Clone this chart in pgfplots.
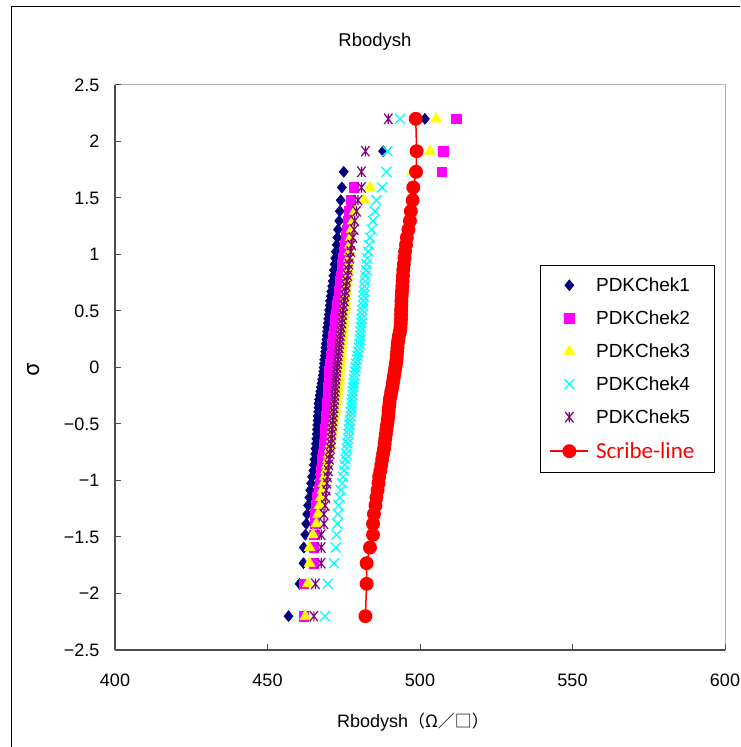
\documentclass[border=0pt]{standalone}
\usepackage{pgfplots}
\pgfplotsset{compat=1.18}
\usepackage{pgfplotstable}
\usepackage{fontspec}
\setmainfont{Liberation Sans}
\newfontfamily\cjk{Noto Sans CJK JP}
\newfontfamily\carlito{Carlito}
\definecolor{cnavy}{RGB}{0,0,128}
\definecolor{cmag}{RGB}{255,0,255}
\definecolor{cyel}{RGB}{255,255,0}
\definecolor{ccyan}{RGB}{0,255,255}
\definecolor{cpurp}{RGB}{128,0,128}
\definecolor{cred}{RGB}{255,0,0}
\pgfdeclareplotmark{xbar}{%
  \pgfpathmoveto{\pgfqpoint{-0.8\pgfplotmarksize}{-\pgfplotmarksize}}%
  \pgfpathlineto{\pgfqpoint{0.8\pgfplotmarksize}{\pgfplotmarksize}}%
  \pgfpathmoveto{\pgfqpoint{-0.8\pgfplotmarksize}{\pgfplotmarksize}}%
  \pgfpathlineto{\pgfqpoint{0.8\pgfplotmarksize}{-\pgfplotmarksize}}%
  \pgfpathmoveto{\pgfqpoint{0pt}{-\pgfplotmarksize}}%
  \pgfpathlineto{\pgfqpoint{0pt}{\pgfplotmarksize}}%
  \pgfusepathqstroke}
\pgfdeclareplotmark{xx}{%
  \pgfpathmoveto{\pgfqpoint{-\pgfplotmarksize}{-\pgfplotmarksize}}%
  \pgfpathlineto{\pgfqpoint{\pgfplotmarksize}{\pgfplotmarksize}}%
  \pgfpathmoveto{\pgfqpoint{-\pgfplotmarksize}{\pgfplotmarksize}}%
  \pgfpathlineto{\pgfqpoint{\pgfplotmarksize}{-\pgfplotmarksize}}%
  \pgfusepathqstroke}
\pgfdeclareplotmark{dmd}{%
  \pgfpathmoveto{\pgfqpoint{0pt}{1.15\pgfplotmarksize}}%
  \pgfpathlineto{\pgfqpoint{0.95\pgfplotmarksize}{0pt}}%
  \pgfpathlineto{\pgfqpoint{0pt}{-1.15\pgfplotmarksize}}%
  \pgfpathlineto{\pgfqpoint{-0.95\pgfplotmarksize}{0pt}}%
  \pgfpathclose\pgfusepathqfillstroke}
\pgfplotstableread{
z a b c d e f
-2.2004 456.9 461.9 462.4 468.8 465.2 482.1
-1.9145 460.5 461.9 463.2 469.8 465.7 482.5
-1.7317 461.8 465.2 463.8 471.8 467.6 482.5
-1.5932 461.9 465.2 463.8 472.4 467.6 483.6
-1.4802 462.4 465.3 464.9 472.6 467.6 484.6
-1.3830 462.7 465.5 466.0 472.9 468.5 484.6
-1.2975 463.0 465.7 466.6 473.1 468.5 484.9
-1.2206 463.3 466.0 467.1 473.3 468.9 485.4
-1.1503 463.7 466.4 467.5 473.7 469.1 485.7
-1.0853 464.0 466.8 468.0 474.1 469.3 486.1
-1.0246 464.3 467.1 468.4 474.5 469.5 486.4
-0.9674 464.6 467.4 468.7 474.8 469.7 486.6
-0.9134 465.0 467.6 469.1 475.1 469.9 487.0
-0.8616 465.2 467.8 469.5 475.3 470.1 487.3
-0.8122 465.4 468.0 469.8 475.6 470.3 487.6
-0.7647 465.6 468.2 470.1 475.8 470.5 487.9
-0.7189 465.7 468.4 470.4 476.0 470.7 488.2
-0.6745 465.9 468.6 470.7 476.2 470.8 488.4
-0.6314 466.0 468.8 471.0 476.4 471.0 488.6
-0.5895 466.1 468.9 471.2 476.6 471.1 488.8
-0.5485 466.2 469.0 471.4 476.7 471.2 489.0
-0.5085 466.3 469.1 471.6 476.9 471.4 489.2
-0.4693 466.4 469.2 471.8 477.0 471.5 489.4
-0.4307 466.5 469.3 472.0 477.2 471.6 489.6
-0.3928 466.6 469.4 472.2 477.3 471.7 489.7
-0.3554 466.7 469.5 472.4 477.5 471.8 489.8
-0.3186 466.7 469.6 472.6 477.6 471.9 490.0
-0.2822 466.9 469.7 472.7 477.7 472.0 490.1
-0.2462 467.1 469.8 472.9 477.9 472.1 490.4
-0.2104 467.3 469.9 473.0 478.0 472.2 490.6
-0.1750 467.5 470.0 473.2 478.1 472.3 490.9
-0.1397 467.7 470.1 473.3 478.3 472.4 491.1
-0.1046 467.9 470.2 473.5 478.4 472.5 491.3
-0.0697 468.1 470.2 473.6 478.5 472.6 491.5
-0.0348 468.3 470.3 473.7 478.7 472.7 491.7
0.0000 468.4 470.4 473.8 478.9 472.8 491.9
0.0348 468.5 470.5 473.9 479.1 473.0 492.1
0.0697 468.6 470.7 474.0 479.3 473.1 492.3
0.1046 468.8 470.8 474.1 479.5 473.2 492.4
0.1397 468.9 471.0 474.2 479.7 473.4 492.5
0.1750 469.0 471.1 474.3 479.9 473.5 492.6
0.2104 469.1 471.3 474.4 480.1 473.6 492.7
0.2462 469.3 471.5 474.5 480.3 473.8 492.9
0.2822 469.4 471.6 474.6 480.4 473.9 493.1
0.3186 469.5 471.8 474.7 480.5 474.1 493.4
0.3554 469.6 472.0 474.8 480.6 474.2 493.6
0.3928 469.8 472.1 474.9 480.8 474.4 493.7
0.4307 469.9 472.3 475.1 480.9 474.5 493.8
0.4693 470.1 472.5 475.2 481.0 474.7 493.8
0.5085 470.2 472.7 475.3 481.1 474.8 493.8
0.5485 470.4 472.9 475.5 481.3 475.0 493.9
0.5895 470.5 473.1 475.6 481.4 475.2 493.9
0.6314 470.7 473.3 475.7 481.5 475.4 494.0
0.6745 470.9 473.5 475.9 481.7 475.6 494.1
0.7189 471.2 473.7 476.0 481.8 475.8 494.2
0.7647 471.4 473.9 476.2 482.0 476.0 494.3
0.8122 471.6 474.1 476.3 482.1 476.3 494.4
0.8616 471.8 474.3 476.5 482.3 476.5 494.5
0.9134 472.0 474.5 476.6 482.5 476.7 494.7
0.9674 472.2 474.8 476.7 482.7 477.0 494.9
1.0246 472.4 475.0 476.9 483.0 477.3 495.1
1.0853 472.7 475.3 477.0 483.3 477.6 495.4
1.1503 472.9 475.6 477.2 483.6 478.0 495.7
1.2206 473.1 476.2 477.5 484.1 478.4 496.2
1.2975 473.5 476.4 478.0 484.6 478.6 496.7
1.3830 473.7 476.6 478.6 485.2 479.2 497.0
1.4802 474.0 477.3 481.7 485.7 479.7 497.6
1.5932 474.4 478.3 483.6 487.6 480.8 497.8
1.7317 475.0 507.1 497.4 489.0 480.8 498.7
1.9145 487.9 507.6 503.3 489.3 482.1 498.9
2.2004 501.6 511.8 505.3 493.4 489.6 498.6
}\datatable
\begin{document}
\begin{tikzpicture}[x=1pt,y=1pt]
\useasboundingbox (0,0) rectangle (740,747);
\draw[black, line width=1pt] (11,0) -- (11,740) -- (740,740);
\begin{axis}[
  at={(115pt,97pt)}, anchor=south west,
  width=610pt, height=565pt, scale only axis,
  xmin=400, xmax=600, ymin=-2.5, ymax=2.5,
  xtick={400,450,500,550,600},
  ytick={-2.5,-2,-1.5,-1,-0.5,0,0.5,1,1.5,2,2.5},
  yticklabels={−2.5,−2,−1.5,−1,−0.5,0,0.5,1,1.5,2,2.5},
  axis lines*=left,
  axis line style={draw=black!70, line width=1.2pt},
  axis background/.style={draw=gray!60, line width=1pt},
  tick align=inside,
  major tick length=6pt,
  tick style={draw=black!70, line width=1pt},
  /pgf/number format/assume math mode=true,
  tick label style={font=\fontsize{18}{20}\selectfont},
  xticklabel style={yshift=-20pt},
  yticklabel style={xshift=-12pt},
  clip=false,
  legend style={at={(0.697,0.681)}, anchor=north west, draw=black, line width=0.8pt,
    fill=white, font=\fontsize{19}{22}\selectfont, row sep=13.7pt, inner xsep=9pt, inner ysep=10pt,
    nodes={inner xsep=1pt}},
  legend cell align=left,
  legend image code/.code={\draw[mark repeat=2,mark phase=2,#1] plot coordinates {(0pt,0pt) (19pt,0pt) (38pt,0pt)};},
]
\addplot[only marks, mark=dmd, mark size=4.8pt, draw=cnavy, fill=cnavy, line width=0.5pt] table[x=a,y=z] {\datatable};
\addlegendentry{\hspace*{6pt}\makebox[108pt][l]{PDKChek1}}
\addplot[only marks, mark=square*, mark size=4.8pt, draw=cmag, fill=cmag, line width=0.5pt] table[x=b,y=z] {\datatable};
\addlegendentry{\hspace*{6pt}\makebox[108pt][l]{PDKChek2}}
\addplot[only marks, mark=triangle*, mark size=6.3pt, draw=cyel, fill=cyel, line width=0.5pt] table[x=c,y=z] {\datatable};
\addlegendentry{\hspace*{6pt}\makebox[108pt][l]{PDKChek3}}
\addplot[only marks, mark=xx, mark size=5pt, draw=ccyan, line width=1.3pt] table[x=d,y=z] {\datatable};
\addlegendentry{\hspace*{6pt}\makebox[108pt][l]{PDKChek4}}
\addplot[only marks, mark=xbar, mark size=5.2pt, draw=cpurp, line width=1.2pt] table[x=e,y=z] {\datatable};
\addlegendentry{\hspace*{6pt}\makebox[108pt][l]{PDKChek5}}
\addplot[cred, line width=1.5pt, mark=*, mark size=6.2pt, mark options={fill=cred, draw=cred}] table[x=f,y=z] {\datatable};
\addlegendentry{\hspace*{6pt}\makebox[108pt][l]{\carlito\fontsize{23}{24}\selectfont\color{cred}Scribe-line}}
\end{axis}
\node[font=\fontsize{18.5}{20}\selectfont] at (375,705) {Rbodysh};
\node[font=\fontsize{18}{20}\selectfont] at (413,25) {Rbodysh{\cjk\fontsize{17}{20}\selectfont （Ω／□）}};
\node[font=\fontsize{22}{24}\selectfont, rotate=90] at (34,377) {{\cjk σ}};
\end{tikzpicture}
\end{document}
